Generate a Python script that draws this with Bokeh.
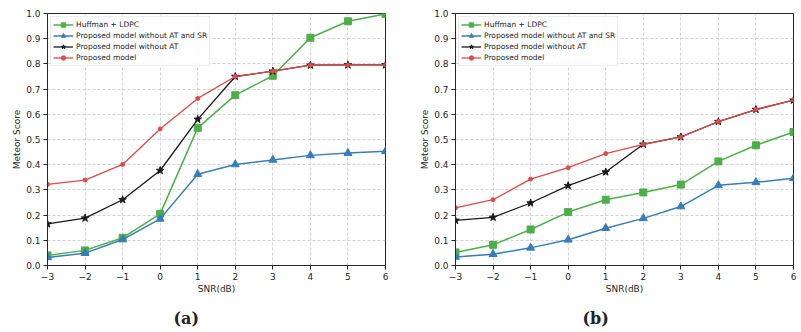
from bokeh.plotting import figure
from bokeh.layouts import row
from bokeh.models import Legend, LegendItem, FixedTicker, Title, Range1d
from bokeh.embed import file_html
from bokeh.resources import INLINE

snr = [-3, -2, -1, 0, 1, 2, 3, 4, 5, 6]

# panel (a)
a_huffman = [0.040, 0.060, 0.110, 0.205, 0.546, 0.676, 0.753, 0.904, 0.969, 0.998]
a_no_at_sr = [0.032, 0.049, 0.103, 0.185, 0.362, 0.401, 0.419, 0.437, 0.446, 0.453]
a_no_at = [0.165, 0.188, 0.261, 0.377, 0.580, 0.750, 0.771, 0.795, 0.796, 0.796]
a_proposed = [0.322, 0.339, 0.401, 0.542, 0.663, 0.750, 0.771, 0.795, 0.796, 0.796]

# panel (b)
b_huffman = [0.052, 0.082, 0.143, 0.212, 0.261, 0.290, 0.321, 0.413, 0.477, 0.530]
b_no_at_sr = [0.034, 0.045, 0.070, 0.102, 0.148, 0.187, 0.234, 0.318, 0.330, 0.346]
b_no_at = [0.179, 0.191, 0.248, 0.317, 0.371, 0.481, 0.510, 0.571, 0.619, 0.656]
b_proposed = [0.229, 0.261, 0.343, 0.388, 0.444, 0.481, 0.510, 0.571, 0.619, 0.656]

series_names = ["Huffman + LDPC", "Proposed model without AT and SR",
                "Proposed model without AT", "Proposed model"]
x_ticks = [-3, -2, -1, 0, 1, 2, 3, 4, 5, 6]
x_tick_labels = ["\u22123", "\u22122", "\u22121", "0", "1", "2", "3", "4", "5", "6"]
y_ticks = [0.0, 0.1, 0.2, 0.3, 0.4, 0.5, 0.6, 0.7, 0.8, 0.9, 1.0]
y_tick_labels = ["0.0", "0.1", "0.2", "0.3", "0.4", "0.5", "0.6", "0.7", "0.8", "0.9", "1.0"]
captions = ["(a)", "(b)"]

GREEN = "#4daf4a"
BLUE = "#377eb8"
BLACK = "#1a1a1a"
RED = "#dc4a4a"
FONT = "DejaVu Sans"


def make_panel(data, caption, width, border_left, border_right, cap_offset):
    p = figure(width=width, height=331, output_backend="svg", toolbar_location=None,
               x_range=Range1d(-3, 6), y_range=Range1d(0, 1.0),
               min_border_left=border_left, min_border_right=border_right,
               min_border_top=13, min_border_bottom=0)
    p.frame_width = 338
    p.frame_height = 252
    p.background_fill_color = "white"
    p.border_fill_color = "white"
    p.outline_line_color = "#262626"
    p.outline_line_width = 1

    for ax in (p.xaxis[0], p.yaxis[0]):
        ax.major_label_text_font = FONT
        ax.major_label_text_font_size = "9px"
        ax.major_label_text_color = "#262626"
        ax.axis_label_text_font = FONT
        ax.axis_label_text_font_size = "9px"
        ax.axis_label_text_font_style = "normal"
        ax.axis_label_text_color = "#262626"
        ax.axis_line_color = "#262626"
        ax.major_tick_line_color = "#262626"
        ax.major_tick_out = 4
        ax.major_tick_in = 0
        ax.minor_tick_line_color = None
        ax.major_label_standoff = 3

    p.xaxis[0].ticker = FixedTicker(ticks=x_ticks)
    p.xaxis[0].major_label_overrides = dict(zip(x_ticks, x_tick_labels))
    p.yaxis[0].ticker = FixedTicker(ticks=y_ticks)
    p.yaxis[0].major_label_overrides = dict(zip(y_ticks, y_tick_labels))
    p.xaxis[0].axis_label = "SNR(dB)"
    p.yaxis[0].axis_label = "Meteor Score"
    p.xaxis[0].axis_label_standoff = 1
    p.yaxis[0].axis_label_standoff = 1

    for g in (p.xgrid[0], p.ygrid[0]):
        g.grid_line_color = "#c8c8c8"
        g.grid_line_dash = "3 2"
        g.grid_line_width = 0.8

    huff, nosr, noat, prop = data
    l1 = p.line(snr, huff, line_color=GREEN, line_width=1.5)
    m1 = p.scatter(snr, huff, marker="square", size=7, fill_color=GREEN, line_color=GREEN)
    l2 = p.line(snr, nosr, line_color=BLUE, line_width=1.5)
    m2 = p.scatter(snr, nosr, marker="triangle", size=8, fill_color=BLUE, line_color=BLUE)
    l3 = p.line(snr, noat, line_color=BLACK, line_width=1.3)
    m3 = p.scatter(snr, noat, marker="star", size=8, fill_color=BLACK, line_color=BLACK)
    l4 = p.line(snr, prop, line_color=RED, line_width=1.3)
    m4 = p.scatter(snr, prop, marker="circle", size=4, fill_color=RED, line_color=RED)

    items = [LegendItem(label=series_names[0], renderers=[l1, m1]),
             LegendItem(label=series_names[1], renderers=[l2, m2]),
             LegendItem(label=series_names[2], renderers=[l3, m3]),
             LegendItem(label=series_names[3], renderers=[l4, m4])]
    leg = Legend(items=items, location="top_left")
    leg.margin = 3
    leg.padding = 2
    leg.spacing = 0
    leg.label_height = 11
    leg.glyph_height = 11
    leg.glyph_width = 20
    leg.label_standoff = 3
    leg.label_text_font = FONT
    leg.label_text_font_size = "7.5px"
    leg.label_text_color = "#262626"
    leg.border_line_color = "#dddddd"
    leg.border_line_width = 1
    leg.background_fill_alpha = 0.85
    p.add_layout(leg)

    cap = Title(text=caption, align="left", offset=cap_offset,
                text_font="DejaVu Serif", text_font_size="16px", text_font_style="bold",
                text_color="#222222", standoff=20)
    p.add_layout(cap, "below")
    return p


pa = make_panel((a_huffman, a_no_at_sr, a_no_at, a_proposed), captions[0], 408, 47, 23, 126)
pb = make_panel((b_huffman, b_no_at_sr, b_no_at, b_proposed), captions[1], 391, 47, 6, 127)

layout = row(pa, pb)
open("out.html", "w").write(file_html(layout, INLINE))
